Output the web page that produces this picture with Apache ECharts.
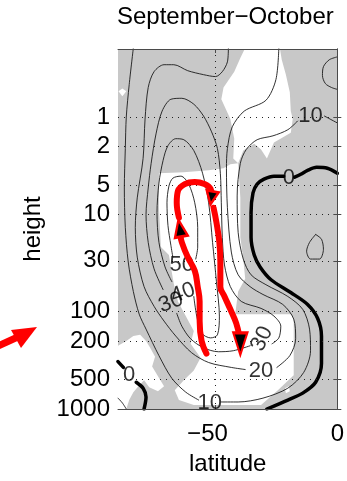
<!DOCTYPE html>
<html><head><meta charset="utf-8">
<script src="https://cdn.jsdelivr.net/npm/echarts@6/dist/echarts.min.js"></script>
<style>html,body{margin:0;padding:0;background:#fff}#c{width:347px;height:481px}</style>
</head><body><div id="c"></div>
<script>
// ---- axes ----
const xTickValues = [-50, 0];
const xTickLabels = ['−50', '0'];
const yTickValues = [1, 2, 5, 10, 30, 100, 200, 500, 1000];
const yTickLabels = ['1', '2', '5', '10', '30', '100', '200', '500', '1000'];

// ---- contour lines: [latitude, height(hPa)] ----
const contour10_a = [[0,1.15],[-5.3,0.977]];
const contour10_b = [[-16.3,1.10],[-20.3,1.35],[-26.4,1.56],[-32.9,1.71],[-37.4,2.16],[-39.8,2.99],[-41.1,6.47],[-40.7,15.3],[-38.6,28.8],[-35.4,41.8],[-29.3,52.8],[-20.3,69.8],[-14.2,94.6],[-11.4,151],[-11.0,252],[-13.8,421],[-20.3,611],[-30.5,773],[-40.7,847],[-47.6,847]];
const contour10_c = [[-56.9,809],[-62.2,671],[-67.9,484],[-73.2,283],[-78.5,151],[-81.3,106],[-83.7,62.1],[-85.8,30.9],[-87.0,13.6],[-87.4,5.36],[-87.0,2.11],[-86.6,1],[-85.4,0.463],[-83.7,0.195]];
const contour20_a = [[-44.7,0.195],[-45.1,0.271],[-47.2,0.342],[-50.0,0.384],[-54.9,0.367],[-61.4,0.334],[-67.1,0.290],[-71.1,0.290],[-75.2,0.342],[-77.6,0.497],[-78.9,1.05],[-79.7,2.66],[-82.1,6.77],[-82.9,13.6],[-82.1,27.5],[-79.3,55.3],[-75.2,88.1],[-71.1,125],[-66.3,178],[-59.8,264],[-52.8,333],[-43.5,374],[-37.8,393]];
const contour20_b = [[-24.8,374],[-19.5,283],[-17.1,190],[-17.9,119],[-22.4,84.2],[-30.5,66.6],[-35.8,55.3],[-40.7,41.8],[-43.5,24.4],[-45.1,8.55],[-45.5,3.36],[-45.1,2.11],[-43.1,1.26],[-38.2,0.869],[-29.3,0.673],[-25.2,0.412],[-24.0,0.195]];
const contour30_a = [[-71.5,59.3],[-75.2,36.3],[-77.6,19.4],[-78.5,10.07],[-77.6,5.36],[-76.4,2.99],[-74.4,1.49],[-71.9,0.869],[-68.3,0.657],[-63.8,0.642],[-58.9,0.738],[-54.9,0.977],[-51.6,1.42],[-49.2,2.11],[-48.0,3.78],[-47.6,7.61],[-47.2,17.2],[-46.3,33.1],[-43.9,55.3],[-39.4,78.5],[-31.3,92.5],[-26.0,111],[-23.2,141],[-24.0,186],[-26.8,214]];
const contour30_b = [[-35.8,224],[-42.7,252],[-48.8,258],[-54.9,235],[-60.2,190],[-63.8,141],[-65.9,104]];
const contour40 = [[-58.9,69.8],[-57.7,111],[-55.7,166],[-52.0,186],[-49.2,173],[-48.4,111],[-49.6,49.2],[-51.2,19.4],[-52.8,7.61],[-55.3,3.78],[-58.9,2.21],[-63.0,1.71],[-66.3,1.67],[-69.5,1.97],[-71.5,2.79],[-73.2,4.77],[-74.0,9.61],[-73.2,19.4],[-70.7,34.7],[-67.9,49.2]];
const contour50 = [[-58.1,28.8],[-57.3,21.7],[-57.3,13.6],[-58.5,7.61],[-61.0,4.89],[-64.2,4.05],[-67.5,4.25],[-69.1,5.12],[-69.9,7.61],[-69.5,13.0],[-68.3,20.8],[-67.5,27.5]];
const contourTopRight = [[0,0.241],[-3.3,0.258],[-5.7,0.304],[-6.1,0.375],[-4.9,0.453],[-2.4,0.497],[0,0.520]];
const contourSmallLoop = [[-8.9,16.1],[-6.5,18.0],[-5.7,22.8],[-7.3,28.8],[-11.0,28.8],[-12.6,23.9],[-11.4,19.4],[-8.9,16.1]];
const contourCorner = [[-90,773],[-88.2,867],[-86.6,1000]];
const zeroRight_a = [[0,3.78],[-4.1,3.36],[-8.5,3.29],[-12.2,3.53],[-15.0,3.87],[-17.5,4.15]];
const zeroRight_b = [[-22.0,4.05],[-26.0,4.05],[-30.1,4.35],[-32.9,4.89],[-34.6,6.03],[-35.4,9.6],[-35.4,17.2],[-34.1,26.2],[-31.7,34.7],[-27.2,47.0],[-19.1,63.6],[-12.2,84.2],[-8.1,116.7],[-6.5,178],[-6.5,341],[-8.9,531],[-14.2,687],[-20.3,809],[-28.9,1000]];
const zeroLeft_a = [[-90,326],[-87.8,374]];
const zeroLeft_b = [[-82.5,531],[-79.7,611],[-78.5,754],[-79.3,1000]];

// ---- contour labels ----
const contourLabelText = ['10', '0', '50', '40', '30', '30', '20', '10', '0'];
const contourLabelLat = [-11.0, -19.9, -63.8, -63.4, -68.3, -30.9, -31.3, -52.4, -85.4];
const contourLabelP = [0.977, 4.25, 33.1, 64.5, 80.5, 190, 411, 867, 451];

// ---- non-shaded (white) regions: [latitude, height] ----
const whiteTop = [[-37.8,0.195],[-23.6,0.195],[-22.8,0.258],[-21.1,0.367],[-19.5,0.558],[-19.1,0.869],[-18.3,1.05],[-19.1,1.45],[-26.0,1.83],[-28.9,2.66],[-31.3,2.16],[-34.1,1.88],[-38.6,2.21],[-40.7,2.99],[-42.7,2.66],[-42.3,1.67],[-43.9,1.05],[-47.6,0.657],[-46.7,0.497],[-42.3,0.342],[-39.8,0.247]];
const whiteSpot = [[-89.8,0.545],[-88.2,0.508],[-86.6,0.545],[-88.2,0.612]];
const whiteCentre = [[-73.2,3.78],[-63.0,3.69],[-52.8,3.52],[-46.7,3.36],[-43.9,3.06],[-40.7,2.99],[-39.8,6.77],[-39.8,17.2],[-38.6,28.8],[-37.8,45.9],[-40.7,62.1],[-41.9,106],[-19.1,106],[-17.9,117],[-17.9,451],[-24.4,640],[-31.3,908],[-58.9,908],[-65.0,809],[-66.7,640],[-63.0,507],[-58.9,402],[-56.1,297],[-60.2,214],[-58.9,158],[-65.4,78.5],[-67.1,51.6],[-68.3,34.7],[-69.1,26.2],[-72.4,21.7],[-73.2,8.55]];
const whiteBottomLeft = [[-90,224],[-86.6,200],[-83.7,178],[-80.9,173],[-78.5,200],[-76.8,235],[-74.8,290],[-76.0,366],[-73.6,462],[-71.1,583],[-73.6,656],[-77.2,597],[-79.3,507],[-81.3,570],[-83.7,671],[-85.4,809],[-86.6,1000],[-90,1000]];
const whiteSpotRight = [[-21.5,611],[-19.9,583],[-19.5,656],[-21.1,687]];

// ---- red circulation arrows ----
const arrowPathA = [[-53.7,270],[-55.7,200],[-56.5,125],[-56.5,78.5],[-57.3,55.3],[-58.5,38.0],[-61.4,27.5],[-63.8,19.4],[-64.4,16.4]];
const arrowPathB = [[-65.0,10.8],[-65.9,7.61],[-65.4,5.75],[-62.6,4.89],[-58.5,4.66],[-54.5,4.89],[-52.0,5.49],[-51.6,6.31]];
const arrowPathC = [[-50.8,8.55],[-49.6,12.1],[-48.4,19.4],[-48.0,30.9],[-48.0,55.3],[-46.3,69.8],[-43.9,94.6],[-41.5,131],[-40.2,178]];
const arrowHeadPos = [[-64.6,13.9],[-51.6,6.77],[-39.8,214]];

// ---- styling ----
const FONT = "'Liberation Sans', Arial, sans-serif";
const AXC = '#4a4a4a';
const labelRot = [0, 0, 0, 20, 20, 65, 0, 0, 0];
const headRot = [10, 170, 180];
const headSize = [[13,17],[12,13],[14,22]];

function polygon(points, color, z) {
  return {
    type: 'custom', coordinateSystem: 'cartesian2d', z: z, clip: true, silent: true,
    data: points, encode: {x: 0, y: 1},
    renderItem: function (params, api) {
      if (params.dataIndex !== 0) return;
      return {type: 'polygon', shape: {points: points.map(p => api.coord(p))},
              style: {fill: color, stroke: null}};
    }
  };
}
function cline(data, width, color, z, smooth) {
  return {type: 'line', data: data, showSymbol: false, symbol: 'none', smooth: smooth,
          silent: true, z: z, clip: true,
          lineStyle: {color: color, width: width, cap: 'round', join: 'round'}};
}
function nearestLabel(v, vals, labs) {
  let best = 0;
  for (let i = 1; i < vals.length; i++) if (Math.abs(Math.log(vals[i] / v)) < Math.abs(Math.log(vals[best] / v))) best = i;
  return labs[best];
}

const chart = echarts.init(document.getElementById('c'));
const thin = 0.9;
const option = {
  animation: false,
  backgroundColor: '#fff',
  textStyle: {fontFamily: FONT},
  title: {text: 'September−October', left: 117, top: 5, padding: 0,
          textStyle: {fontSize: 24, fontWeight: 'normal', color: '#000', fontFamily: FONT}},
  grid: {left: 118, top: 49, width: 222, height: 365, show: true, backgroundColor: '#c8c8c8', borderWidth: 0},
  xAxis: [{
    type: 'value', min: -90, max: 0, z: 3,
    name: 'latitude', nameLocation: 'middle', nameGap: 43,
    nameTextStyle: {fontSize: 24, color: '#000', fontFamily: FONT},
    axisLine: {show: true, lineStyle: {color: AXC, width: 1}},
    axisTick: {show: true, inside: true, length: 4, customValues: xTickValues, lineStyle: {color: AXC}},
    axisLabel: {customValues: xTickValues, fontSize: 24, color: '#000', margin: 13, fontFamily: FONT,
      formatter: v => { const i = xTickValues.indexOf(Math.round(v)); return i === 0 ? '{s|' + xTickLabels[i] + '}' : xTickLabels[i]; },
      rich: {s: {fontSize: 24, color: '#000', fontFamily: FONT, padding: [0, 16, 0, 0]}}},
    splitLine: {show: true, lineStyle: {color: '#222', width: 1, type: [1, 5]}}
  }, {
    type: 'value', min: -90, max: 0, position: 'top', z: 3,
    axisLine: {show: true, lineStyle: {color: AXC, width: 1}},
    axisTick: {show: true, inside: true, length: 4, customValues: xTickValues, lineStyle: {color: AXC}},
    axisLabel: {show: false}, splitLine: {show: false}
  }],
  yAxis: [{
    type: 'log', logBase: 10, min: 0.2, max: 1000, inverse: true, z: 3,
    name: 'height', nameLocation: 'middle', nameGap: 70, nameRotate: 90,
    nameTextStyle: {fontSize: 24, color: '#000', fontFamily: FONT},
    axisLine: {show: true, lineStyle: {color: AXC, width: 1}},
    axisTick: {show: true, inside: true, length: 4, customValues: yTickValues, lineStyle: {color: AXC}},
    axisLabel: {customValues: yTickValues, fontSize: 24, color: '#000', margin: 8, fontFamily: FONT,
      formatter: v => nearestLabel(v, yTickValues, yTickLabels)},
    splitLine: {show: true, lineStyle: {color: '#222', width: 1, type: [1, 5]}}
  }, {
    type: 'log', logBase: 10, min: 0.2, max: 1000, inverse: true, position: 'right', z: 3,
    axisLine: {show: true, lineStyle: {color: AXC, width: 1}},
    axisTick: {show: true, inside: true, length: 4, customValues: yTickValues, lineStyle: {color: AXC}},
    axisLabel: {show: false}, splitLine: {show: false}
  }],
  graphic: [
    {type: 'polyline', z: 10, shape: {points: [[-2, 346], [20, 336]]}, style: {stroke: '#ff0000', lineWidth: 7, fill: null}},
    {type: 'polygon', z: 10, shape: {points: [[37, 327], [11, 330], [21, 348]]}, style: {fill: '#ff0000'}}
  ],
  series: [
    polygon(whiteTop, '#ffffff', 1),
    polygon(whiteSpot, '#ffffff', 1),
    polygon(whiteCentre, '#ffffff', 1),
    polygon(whiteBottomLeft, '#ffffff', 1),
    polygon(whiteSpotRight, '#ffffff', 1),
    cline(contour10_a, thin, '#1a1a1a', 2, 0.3),
    cline(contour10_b, thin, '#1a1a1a', 2, 0.3),
    cline(contour10_c, thin, '#1a1a1a', 2, 0.3),
    cline(contour20_a, thin, '#1a1a1a', 2, 0.3),
    cline(contour20_b, thin, '#1a1a1a', 2, 0.3),
    cline(contour30_a, thin, '#1a1a1a', 2, 0.3),
    cline(contour30_b, thin, '#1a1a1a', 2, 0.3),
    cline(contour40, thin, '#1a1a1a', 2, 0.3),
    cline(contour50, thin, '#1a1a1a', 2, 0.3),
    cline(contourTopRight, thin, '#1a1a1a', 2, 0.3),
    cline(contourSmallLoop, thin, '#1a1a1a', 2, 0.3),
    cline(contourCorner, thin, '#1a1a1a', 2, 0.3),
    cline(zeroRight_a, 3.5, '#000', 2, 0.3),
    cline(zeroRight_b, 3.5, '#000', 2, 0.3),
    cline(zeroLeft_a, 3.5, '#000', 2, 0.3),
    cline(zeroLeft_b, 3.5, '#000', 2, 0.3),
    {type: 'scatter', symbolSize: 0, z: 4, silent: true,
     data: contourLabelText.map((t, i) => ({value: [contourLabelLat[i], contourLabelP[i]], label: {rotate: labelRot[i]}})),
     label: {show: true, position: 'inside', fontSize: 22, color: '#000', fontFamily: FONT,
             formatter: p => contourLabelText[p.dataIndex]}},
    cline(arrowPathA, 6, '#ff0000', 5, 0.4),
    cline(arrowPathB, 6, '#ff0000', 5, 0.4),
    cline(arrowPathC, 6, '#ff0000', 5, 0.4),
    {type: 'scatter', symbol: 'triangle', z: 6, silent: true,
     data: arrowHeadPos.map((p, i) => ({value: p, symbolRotate: headRot[i], symbolSize: headSize[i]})),
     itemStyle: {color: '#000', borderColor: '#ff0000', borderWidth: 2.5, opacity: 1}}
  ]
};
chart.setOption(option);
</script></body></html>
